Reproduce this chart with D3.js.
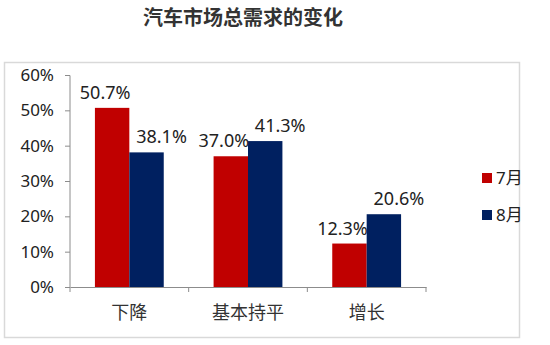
<!DOCTYPE html>
<html>
<head>
<meta charset="utf-8">
<script src="https://cdn.jsdelivr.net/npm/d3@7"></script>
<style>
    body { margin: 0; background: #fff; }
    text { font-family: "Noto Sans", "Noto Sans CJK SC", sans-serif; fill: #222; }
</style>
</head>
<body>
<div id="chart"></div>
<script>
const width = 550;
const height = 345;

const categories = ["下降", "基本持平", "增长"];
const seriesNames = ["7月", "8月"];
const july = [50.7, 37.0, 12.3];
const august = [38.1, 41.3, 20.6];
const yTicks = [0, 10, 20, 30, 40, 50, 60];
const colors = ["#C00000", "#002060"];

const margin = { top: 75, right: 124, bottom: 58, left: 70 };
// labels sit a little off-centre, as in the original
const labelShift = [-7, 15];

const svg = d3.select("#chart")
    .append("svg")
    .attr("width", width)
    .attr("height", height);

// TITLE
svg.append("text")
    .attr("x", 243)
    .attr("y", 25)
    .attr("text-anchor", "middle")
    .style("font-family", "'Noto Sans CJK SC'")
    .style("font-size", "20px")
    .style("font-weight", "bold")
    .style("fill", "#333")
    .text("汽车市场总需求的变化");

// FRAME
svg.append("rect")
    .attr("x", 4.5)
    .attr("y", 62.5)
    .attr("width", 515)
    .attr("height", 275)
    .attr("fill", "none")
    .attr("stroke", "#d9d9d9")
    .attr("stroke-width", 1.5);

const x0 = d3.scaleBand()
    .domain(categories)
    .range([margin.left, width - margin.right])
    .paddingInner(0.42)
    .paddingOuter(0.21);

const x1 = d3.scaleBand()
    .domain(seriesNames)
    .range([0, x0.bandwidth()]);

const y = d3.scaleLinear()
    .domain([0, 60])
    .range([height - margin.bottom, margin.top]);

const rows = categories.map((c, i) => ({ cat: c, values: [july[i], august[i]] }));

// BARS
const groups = svg.selectAll(".group")
    .data(rows)
    .enter()
    .append("g")
    .attr("transform", d => `translate(${x0(d.cat)},0)`);

groups.selectAll("rect")
    .data(d => d.values.map((v, j) => ({ name: seriesNames[j], v, j })))
    .enter()
    .append("rect")
    .attr("x", d => x1(d.name))
    .attr("y", d => y(d.v))
    .attr("width", x1.bandwidth())
    .attr("height", d => y(0) - y(d.v))
    .attr("fill", d => colors[d.j]);

// VALUE LABELS
groups.selectAll(".val")
    .data(d => d.values.map((v, j) => ({ name: seriesNames[j], v, j })))
    .enter()
    .append("text")
    .attr("x", d => x1(d.name) + x1.bandwidth() / 2 + labelShift[d.j])
    .attr("y", d => y(d.v) - 9)
    .attr("text-anchor", "middle")
    .style("font-size", "18px")
    .text(d => d.v.toFixed(1) + "%");

// Y AXIS
const yAxis = svg.append("g")
    .attr("transform", `translate(${margin.left},0)`)
    .call(d3.axisLeft(y).tickValues(yTicks).tickFormat(d => d + "%").tickSize(5).tickPadding(11));
yAxis.selectAll("text").style("font-size", "17px").style("fill", "#222");
yAxis.selectAll("line, path").attr("stroke", "#8c8c8c");
yAxis.select(".domain").attr("d", `M-5,${margin.top + 0.5}H0V${y(0)}`);

// X AXIS
const xAxis = svg.append("g")
    .attr("transform", `translate(0,${y(0)})`)
    .call(d3.axisBottom(x0).tickSize(0).tickPadding(19));
xAxis.selectAll("text")
    .style("font-family", "'Noto Sans CJK SC'")
    .style("font-size", "18px")
    .style("fill", "#333");
xAxis.select(".domain").attr("stroke", "#8c8c8c");
const step = x0.step();
const bounds = d3.range(categories.length + 1).map(i => margin.left + i * step);
xAxis.selectAll(".sep")
    .data(bounds)
    .enter()
    .append("line")
    .attr("x1", d => d)
    .attr("x2", d => d)
    .attr("y1", 0)
    .attr("y2", 5)
    .attr("stroke", "#8c8c8c");

// LEGEND
const legend = svg.selectAll(".legend")
    .data(seriesNames)
    .enter()
    .append("g")
    .attr("transform", (d, i) => `translate(482,${178 + i * 37})`);

legend.append("rect")
    .attr("x", 0)
    .attr("y", -5)
    .attr("width", 10)
    .attr("height", 10)
    .attr("fill", (d, i) => colors[i]);

legend.append("text")
    .attr("x", 14)
    .attr("y", 6)
    .style("font-size", "17px")
    .text(d => d);
</script>
</body>
</html>
